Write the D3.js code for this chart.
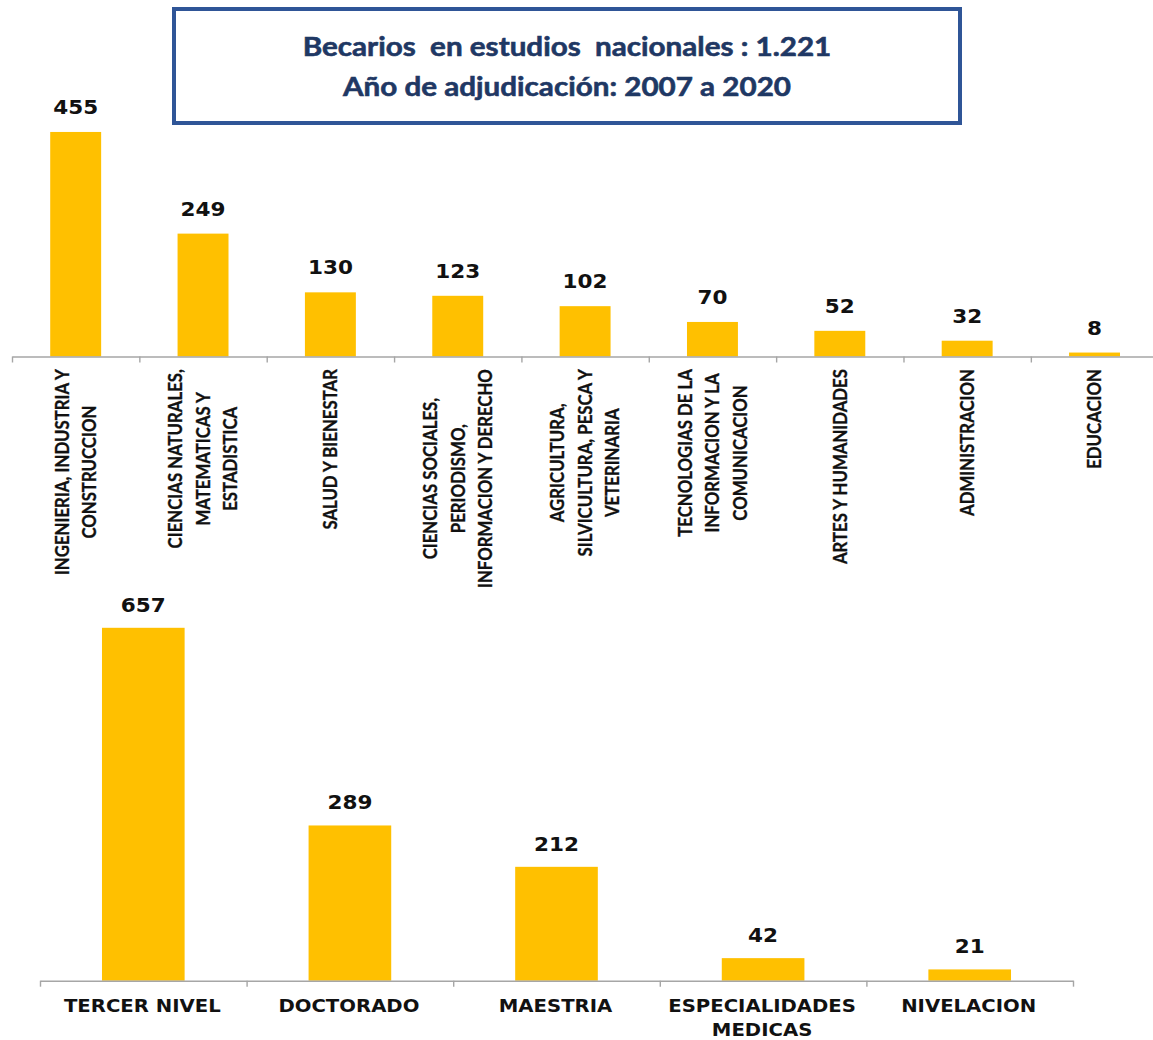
<!DOCTYPE html>
<html><head><meta charset="utf-8">
<script src="https://cdn.jsdelivr.net/npm/d3@7"></script>
<style>body{margin:0;background:#fff}svg{display:block}text{white-space:pre}</style>
</head><body><svg id="c" width="1153" height="1040"></svg>
<script>
// ---------- data ----------
const titleLines = ["Becarios  en estudios  nacionales : 1.221", "Año de adjudicación: 2007 a 2020"];
const fieldLabels = [
  ["INGENIERIA, INDUSTRIA Y", "CONSTRUCCION"],
  ["CIENCIAS NATURALES,", "MATEMATICAS Y", "ESTADISTICA"],
  ["SALUD Y BIENESTAR"],
  ["CIENCIAS SOCIALES,", "PERIODISMO,", "INFORMACION Y DERECHO"],
  ["AGRICULTURA,", "SILVICULTURA, PESCA Y", "VETERINARIA"],
  ["TECNOLOGIAS DE LA", "INFORMACION Y LA", "COMUNICACION"],
  ["ARTES Y HUMANIDADES"],
  ["ADMINISTRACION"],
  ["EDUCACION"]
];
const fieldValues = [455, 249, 130, 123, 102, 70, 52, 32, 8];
const levelLabels = [["TERCER NIVEL"], ["DOCTORADO"], ["MAESTRIA"], ["ESPECIALIDADES", "MEDICAS"], ["NIVELACION"]];
const levelValues = [657, 289, 212, 42, 21];

// ---------- styles ----------
const BAR = "#FFC000", AXIS = "#A6A6A6", TITLE = "#1F3864", BOX = "#2F5597";
const LBL_FONT = "Lato, 'Liberation Sans', sans-serif";
const NUM_FONT = "'DejaVu Sans', Verdana, sans-serif";
const NUM_SIZE = 19;

const svg = d3.select("#c");

function measure(str, font, size, weight) {
  const t = svg.append("text").attr("font-family", font).attr("font-size", size)
    .attr("font-weight", weight).text(str);
  const w = t.node().getComputedTextLength();
  t.remove();
  return w;
}

// horizontal scale factors so fonts match the reference proportions
const kTitle = (530 + 447) / (measure(titleLines[0], LBL_FONT, 26.5, "bold") + measure(titleLines[1], LBL_FONT, 26.5, "bold"));
const kNum = 45 / measure("455", NUM_FONT, NUM_SIZE, "bold");
const kLevel = (155 + 143) / (measure("TERCER NIVEL", NUM_FONT, 17, "bold") + measure("DOCTORADO", NUM_FONT, 17, "bold"));
const kField = (207 + 160 + 195) / (measure("INGENIERIA, INDUSTRIA Y", LBL_FONT, 19, "bold") +
  measure("SALUD Y BIENESTAR", LBL_FONT, 19, "bold") + measure("ARTES Y HUMANIDADES", LBL_FONT, 19, "bold"));

// ---------- title box ----------
svg.append("rect").attr("x", 174).attr("y", 9).attr("width", 786).attr("height", 114)
  .attr("fill", "#fff").attr("stroke", BOX).attr("stroke-width", 4);
svg.selectAll("text.title").data(titleLines).join("text").attr("class", "title")
  .attr("transform", (d, i) => `translate(567,${56 + i * 39.5}) scale(${kTitle},1)`)
  .attr("text-anchor", "middle").attr("font-family", LBL_FONT).attr("font-size", 26.5)
  .attr("font-weight", "bold").attr("fill", TITLE).attr("stroke", TITLE).attr("stroke-width", 0.6)
  .text(d => d);

// ---------- top chart: by field ----------
const topC = { x0: 12, x1: 1158.2, y0: 356.5 };
const xTop = d3.scaleBand().domain(d3.range(fieldValues.length)).range([topC.x0, topC.x1])
  .paddingInner(0.6).paddingOuter(0.3);
const xTopEdges = d3.scaleLinear().domain([0, fieldValues.length]).range([topC.x0, topC.x1]);
const yTop = d3.scaleLinear().domain([0, 500]).range([topC.y0, topC.y0 - 246.75]);

const gTop = svg.append("g");
gTop.selectAll("rect").data(fieldValues).join("rect")
  .attr("x", (d, i) => xTop(i)).attr("width", xTop.bandwidth())
  .attr("y", d => yTop(d)).attr("height", d => yTop(0) - yTop(d)).attr("fill", BAR);

const axTop = svg.append("g").attr("transform", `translate(0,${topC.y0})`)
  .call(d3.axisBottom(xTopEdges).tickValues(d3.range(fieldValues.length + 1)).tickFormat("").tickSize(6).tickSizeOuter(0));
axTop.selectAll("path,line").attr("stroke", AXIS).attr("stroke-width", 1.4);

gTop.selectAll("text.val").data(fieldValues).join("text").attr("class", "val")
  .attr("transform", (d, i) => `translate(${xTop(i) + xTop.bandwidth() / 2},${yTop(d) - 18}) scale(${kNum},1)`)
  .attr("text-anchor", "middle").attr("font-family", NUM_FONT).attr("font-size", NUM_SIZE)
  .attr("font-weight", "bold").attr("fill", "#111").text(d => d);

const labelTop = 369, lineGap = 27.5;
fieldLabels.forEach((lines, i) => {
  const cx = xTop(i) + xTop.bandwidth() / 2;
  const L = d3.max(lines, s => measure(s, LBL_FONT, 19, "bold")) * kField;
  const g = svg.append("g").attr("transform", `translate(${cx},${labelTop + L / 2})`);
  g.selectAll("text").data(lines).join("text")
    .attr("transform", (s, j) => `translate(${(j - (lines.length - 1) / 2) * lineGap},0) rotate(-90) scale(${kField},1)`)
    .attr("dy", "0.36em").attr("text-anchor", "middle").attr("font-family", LBL_FONT)
    .attr("font-size", 19).attr("font-weight", "bold").attr("fill", "#111")
    .attr("stroke", "#111").attr("stroke-width", 0.35).text(s => s);
});

// ---------- bottom chart: by level ----------
const botC = { x0: 40, x1: 1073, y0: 980.7 };
const xBot = d3.scaleBand().domain(d3.range(levelValues.length)).range([botC.x0, botC.x1])
  .paddingInner(0.6).paddingOuter(0.3);
const xBotEdges = d3.scaleLinear().domain([0, levelValues.length]).range([botC.x0, botC.x1]);
const yBot = d3.scaleLinear().domain([0, 700]).range([botC.y0, botC.y0 - 376]);

const gBot = svg.append("g");
gBot.selectAll("rect").data(levelValues).join("rect")
  .attr("x", (d, i) => xBot(i)).attr("width", xBot.bandwidth())
  .attr("y", d => yBot(d)).attr("height", d => yBot(0) - yBot(d)).attr("fill", BAR);

const axBot = svg.append("g").attr("transform", `translate(0,${botC.y0})`)
  .call(d3.axisBottom(xBotEdges).tickValues(d3.range(levelValues.length + 1)).tickFormat("").tickSize(6).tickSizeOuter(0));
axBot.selectAll("path,line").attr("stroke", AXIS).attr("stroke-width", 1.4);

gBot.selectAll("text.val").data(levelValues).join("text").attr("class", "val")
  .attr("transform", (d, i) => `translate(${xBot(i) + xBot.bandwidth() / 2},${yBot(d) - 16}) scale(${kNum},1)`)
  .attr("text-anchor", "middle").attr("font-family", NUM_FONT).attr("font-size", NUM_SIZE)
  .attr("font-weight", "bold").attr("fill", "#111").text(d => d);

levelLabels.forEach((lines, i) => {
  const cx = xBot(i) + xBot.bandwidth() / 2 - 1;
  svg.append("g").selectAll("text").data(lines).join("text")
    .attr("transform", (s, j) => `translate(${cx},${1012 + j * 24}) scale(${kLevel},1)`)
    .attr("text-anchor", "middle").attr("font-family", NUM_FONT).attr("font-size", 17)
    .attr("font-weight", "bold").attr("fill", "#111").text(s => s);
});
</script>
</body></html>
